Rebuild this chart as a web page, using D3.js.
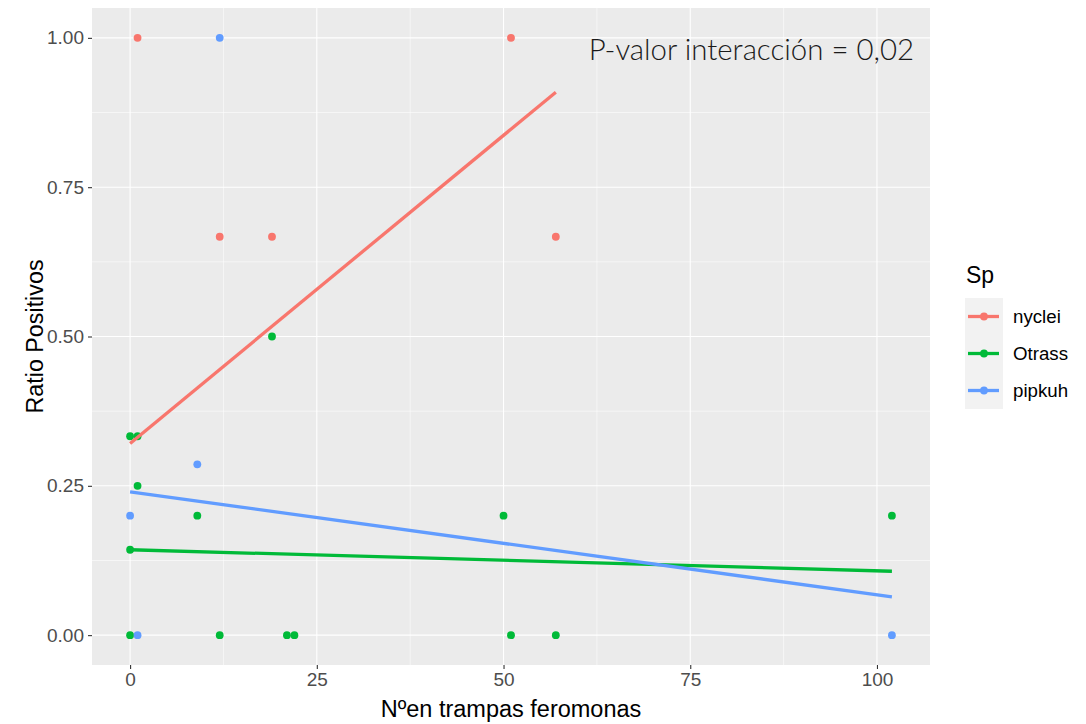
<!DOCTYPE html>
<html>
<head>
<meta charset="utf-8">
<script src="https://cdn.jsdelivr.net/npm/d3@7"></script>
<style>
  html, body { margin: 0; padding: 0; background: #fff; }
  svg { display: block; font-family: "Liberation Sans", Arial, sans-serif; }
</style>
</head>
<body>
<svg id="chart" width="1086" height="724"></svg>
<script>
// species (legend order) and colours
const species = ["nyclei", "Otrass", "pipkuh"];
const colors = ["#F8766D", "#00BA38", "#619CFF"];

// observed points: [traps, ratio]
const nycleiPts = [[1, 1], [51, 1], [12, 0.667], [19, 0.667], [57, 0.667]];
const otrassPts = [
  [0, 0.333], [1, 0.333], [1, 0.25], [9, 0.2], [19, 0.5], [0, 0.143],
  [50, 0.2], [102, 0.2], [0, 0], [12, 0], [21, 0], [22, 0], [51, 0], [57, 0]
];
const pipkuhPts = [[12, 1], [9, 0.286], [0, 0.2], [1, 0], [102, 0]];

// fitted lm lines: [x start, y start], [x end, y end]
const nycleiFit = [[0, 0.321], [57, 0.909]];
const otrassFit = [[0, 0.143], [102, 0.107]];
const pipkuhFit = [[0, 0.240], [102, 0.064]];

const xTicks = [0, 25, 50, 75, 100];
const xMinor = [12.5, 37.5, 62.5, 87.5];
const yTicks = [0, 0.25, 0.5, 0.75, 1];
const yMinor = [0.125, 0.375, 0.625, 0.875];

const groups = [
  { name: species[0], color: colors[0], pts: nycleiPts, fit: nycleiFit },
  { name: species[1], color: colors[1], pts: otrassPts, fit: otrassFit },
  { name: species[2], color: colors[2], pts: pipkuhPts, fit: pipkuhFit },
];

const svg = d3.select("#chart");
const panel = { left: 92, right: 930, top: 8, bottom: 665 };

const x = d3.scaleLinear().domain([-5.1, 107.1]).range([panel.left, panel.right]);
const y = d3.scaleLinear().domain([-0.05, 1.05]).range([panel.bottom, panel.top]);

// panel background
svg.append("rect")
  .attr("x", panel.left).attr("y", panel.top)
  .attr("width", panel.right - panel.left).attr("height", panel.bottom - panel.top)
  .attr("fill", "#ebebeb");

const grid = svg.append("g");
grid.selectAll(".xminor").data(xMinor).join("line")
  .attr("x1", x).attr("x2", x).attr("y1", panel.top).attr("y2", panel.bottom)
  .attr("stroke", "#fff").attr("stroke-width", 0.55);
grid.selectAll(".yminor").data(yMinor).join("line")
  .attr("y1", y).attr("y2", y).attr("x1", panel.left).attr("x2", panel.right)
  .attr("stroke", "#fff").attr("stroke-width", 0.55);
grid.selectAll(".xmajor").data(xTicks).join("line")
  .attr("x1", x).attr("x2", x).attr("y1", panel.top).attr("y2", panel.bottom)
  .attr("stroke", "#fff").attr("stroke-width", 1.1);
grid.selectAll(".ymajor").data(yTicks).join("line")
  .attr("y1", y).attr("y2", y).attr("x1", panel.left).attr("x2", panel.right)
  .attr("stroke", "#fff").attr("stroke-width", 1.1);

// axes
const xAxis = svg.append("g")
  .attr("transform", `translate(0,${panel.bottom})`)
  .call(d3.axisBottom(x).tickValues(xTicks).tickSize(4).tickPadding(4).tickFormat(d3.format("d")));
const yAxis = svg.append("g")
  .attr("transform", `translate(${panel.left},0)`)
  .call(d3.axisLeft(y).tickValues(yTicks).tickSize(4).tickPadding(4).tickFormat(d3.format(".2f")));
[xAxis, yAxis].forEach(a => {
  a.select(".domain").remove();
  a.selectAll(".tick line").attr("stroke", "#333").attr("stroke-width", 1.1);
  a.selectAll(".tick text").attr("fill", "#4d4d4d").attr("font-size", 19)
    .attr("font-family", "Liberation Sans, Arial, sans-serif");
});

// points
const pts = svg.append("g");
groups.forEach(g => {
  pts.selectAll(null).data(g.pts).join("circle")
    .attr("cx", d => x(d[0])).attr("cy", d => y(d[1]))
    .attr("r", 3.9).attr("fill", g.color);
});

// fitted lines
const line = d3.line().x(d => x(d[0])).y(d => y(d[1]));
groups.forEach(g => {
  svg.append("path").attr("d", line(g.fit))
    .attr("fill", "none").attr("stroke", g.color).attr("stroke-width", 3.3);
});

// annotation
svg.append("text")
  .attr("x", 914).attr("y", 60)
  .attr("text-anchor", "end")
  .attr("font-family", "Lato, sans-serif").attr("font-weight", 300)
  .attr("font-size", 29.4).attr("fill", "#1a1a1a")
  .text("P-valor interacción = 0,02");

// axis titles
svg.append("text")
  .attr("x", (panel.left + panel.right) / 2).attr("y", 717)
  .attr("text-anchor", "middle").attr("font-size", 23.5).attr("fill", "#000")
  .text("Nºen trampas feromonas");
svg.append("text")
  .attr("transform", `translate(43,${(panel.top + panel.bottom) / 2}) rotate(-90)`)
  .attr("text-anchor", "middle").attr("font-size", 23.3).attr("fill", "#000")
  .text("Ratio Positivos");

// legend
const legend = svg.append("g").attr("transform", "translate(965,298)");
legend.append("text").attr("x", 1).attr("y", -15)
  .attr("font-size", 23).attr("fill", "#000").text("Sp");
const keyH = 37, keyW = 38;
const item = legend.selectAll(".item").data(groups).join("g")
  .attr("transform", (d, i) => `translate(0,${i * keyH})`);
item.append("rect").attr("width", keyW).attr("height", keyH).attr("fill", "#f2f2f2");
item.append("line").attr("x1", 3).attr("x2", keyW - 4)
  .attr("y1", keyH / 2).attr("y2", keyH / 2)
  .attr("stroke", d => d.color).attr("stroke-width", 3.3);
item.append("circle").attr("cx", keyW / 2).attr("cy", keyH / 2).attr("r", 3.9)
  .attr("fill", d => d.color);
item.append("text").attr("x", keyW + 10).attr("y", keyH / 2 + 6.5)
  .attr("font-size", 18.7).attr("fill", "#000").text(d => d.name);
</script>
</body>
</html>
